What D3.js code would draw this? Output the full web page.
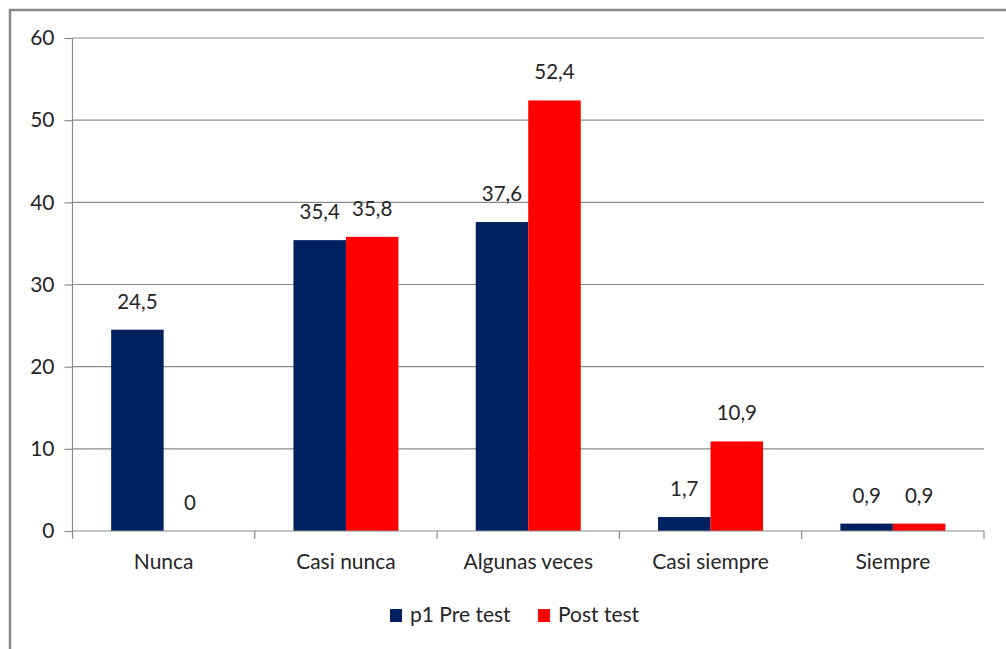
<!DOCTYPE html>
<html><head><meta charset="utf-8">
<script src="https://cdn.jsdelivr.net/npm/d3@7"></script>
<style>html,body{margin:0;padding:0;background:#fff;}svg{display:block;}</style>
</head><body>
<svg id="c" width="1006" height="649"></svg>
<script>
const categories = ["Nunca", "Casi nunca", "Algunas veces", "Casi siempre", "Siempre"];
const seriesNames = ["p1 Pre test", "Post test"];
const preTest = [24.5, 35.4, 37.6, 1.7, 0.9];
const postTest = [0, 35.8, 52.4, 10.9, 0.9];
const yTicks = [0, 10, 20, 30, 40, 50, 60];
const colors = ["#002060", "#FF0000"];

(function(){
const svg = d3.select("#c");
const font = "Lato, 'Open Sans', sans-serif";
const textColor = "#262626";

// outer frame (only top and left visible)
svg.append("path").attr("d", "M10,649 V10 H1006").attr("fill", "none")
  .attr("stroke", "#888").attr("stroke-width", 2.5);

const pL = 72.5, pR = 984, pT = 38, pB = 531;
const x = d3.scaleBand().domain(categories).range([pL, pR]).padding(0);
const y = d3.scaleLinear().domain([0, 60]).range([pB, pT]);
const barW = x.bandwidth() * 0.288;
const xs = d3.scaleBand().domain(seriesNames).range([0, barW * 2]);

// gridlines
svg.append("g").selectAll("line").data(yTicks.filter(d => d > 0)).join("line")
  .attr("x1", pL).attr("x2", pR).attr("y1", d => y(d)).attr("y2", d => y(d))
  .attr("stroke", "#8c8c8c").attr("stroke-width", 1.2);

// bars
const data = categories.map((c, i) => ({c, vals: [preTest[i], postTest[i]]}));
const g = svg.append("g");
data.forEach(d => {
  const x0 = x(d.c) + x.bandwidth() / 2 - barW;
  d.vals.forEach((v, j) => {
    g.append("rect").attr("x", x0 + xs(seriesNames[j])).attr("width", xs.bandwidth())
      .attr("y", y(v)).attr("height", pB - y(v)).attr("fill", colors[j]);
    g.append("text").attr("x", x0 + xs(seriesNames[j]) + xs.bandwidth() / 2)
      .attr("y", y(v) - 21).attr("text-anchor", "middle")
      .attr("font-family", font).attr("font-size", 20.5).attr("fill", textColor)
      .text(String(v).replace(".", ","));
  });
});

// y axis
const ya = svg.append("g").attr("transform", `translate(${pL},0)`)
  .call(d3.axisLeft(y).tickValues(yTicks).tickSize(8).tickPadding(10));
ya.select(".domain").attr("stroke", "#8c8c8c").attr("stroke-width", 1.2).attr("d", `M0,${pT}V${pB}`);
ya.selectAll(".tick line").attr("stroke", "#8c8c8c").attr("stroke-width", 1.2);
ya.selectAll(".tick text").attr("font-family", font).attr("font-size", 21).attr("fill", textColor);

// x axis
const xa = svg.append("g").attr("transform", `translate(0,${pB})`)
  .call(d3.axisBottom(x).tickSize(0).tickPadding(23));
xa.select(".domain").attr("stroke", "#8c8c8c").attr("stroke-width", 1.2).attr("d", `M${pL},0H${pR}`);
xa.selectAll(".tick text").attr("font-family", font).attr("font-size", 21).attr("fill", textColor);
const bounds = categories.map(c => x(c)).concat([pR]);
xa.selectAll(".bt").data(bounds).join("line").attr("class", "bt")
  .attr("x1", d => d).attr("x2", d => d).attr("y1", 0).attr("y2", 8)
  .attr("stroke", "#8c8c8c").attr("stroke-width", 1.2);

// legend
const lg = svg.append("g");
const legendX = [390, 538];
seriesNames.forEach((s, j) => {
  lg.append("rect").attr("x", legendX[j]).attr("y", 609).attr("width", 12).attr("height", 13).attr("fill", colors[j]);
  lg.append("text").attr("x", legendX[j] + 20).attr("y", 622).attr("font-family", font)
    .attr("font-size", 21).attr("fill", textColor).text(s);
});
})();
</script>
</body></html>
